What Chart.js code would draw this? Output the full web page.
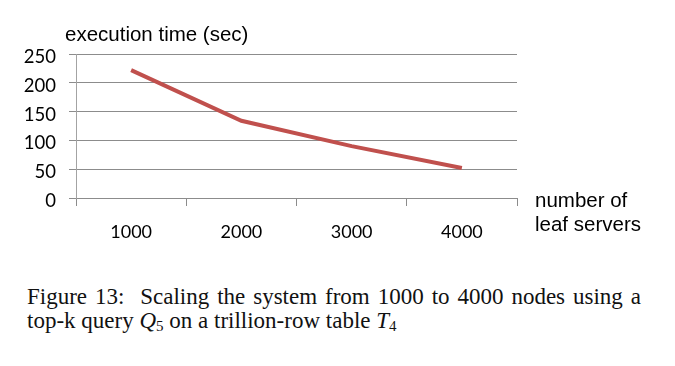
<!DOCTYPE html>
<html>
<head>
<meta charset="utf-8">
<script src="https://cdn.jsdelivr.net/npm/chart.js@4"></script>
<style>
  body { margin: 0; background: #fff; }
  #wrap { position: relative; width: 675px; height: 366px; background: #fff; }
  #chart { position: absolute; left: 0; top: 0; }
  #caption {
    position: absolute; left: 27px; top: 285px; width: 614px;
    font-family: "Liberation Serif", "Times New Roman", serif;
    font-size: 23px; line-height: 23.5px; color: #111;
  }
  #caption .l1 { display: block; text-align: justify; text-align-last: justify; white-space: nowrap; }
  #caption .l2 { display: block; }
  #caption i { font-style: italic; }
  #caption sub { font-size: 15px; vertical-align: -3px; line-height: 0; font-style: normal; }
</style>
</head>
<body>
<div id="wrap">
  <canvas id="chart" width="675" height="260"></canvas>
  <div id="caption"><span class="l1">Figure 13:&nbsp; Scaling the system from 1000 to 4000 nodes using a</span><span class="l2">top-k query <i>Q</i><sub>5</sub> on a trillion-row table <i>T</i><sub>4</sub></span></div>
</div>
<script>
const servers = ['1000', '2000', '3000', '4000'];
const execTime = [222, 134, 90, 52];
const yTicks = [0, 50, 100, 150, 200, 250];

const yTitle = 'execution time (sec)';
const xTitle = ['number of', 'leaf servers'];

const gridGray = '#8c8c8c';
const axisGray = '#a3a3a3';
const tickFont = 'Lato, "Liberation Sans", sans-serif';

// draws the two axis titles where the original puts them
const axisTitles = {
    id: 'axisTitles',
    afterDraw(chart) {
        const ctx = chart.ctx;
        const area = chart.chartArea;
        ctx.save();
        ctx.fillStyle = '#000';
        ctx.font = '20.5px "Liberation Sans", Arial, sans-serif';
        ctx.textBaseline = 'alphabetic';
        ctx.textAlign = 'left';
        ctx.fillText(yTitle, 65, area.top - 13);
        ctx.fillText(xTitle[0], area.right + 18, area.bottom + 9);
        ctx.fillText(xTitle[1], area.right + 18, area.bottom + 33);
        ctx.restore();
    }
};

const ctx = document.getElementById('chart').getContext('2d');

const chart = new Chart(ctx, {
    type: 'line',
    data: {
        labels: servers,
        datasets: [{
            data: execTime,
            borderColor: 'rgb(192, 80, 77)',
            borderWidth: 4,
            pointRadius: 0,
            tension: 0,
            fill: false
        }]
    },
    options: {
        responsive: false,
        animation: false,
        layout: { padding: { top: 54, right: 158, left: 0, bottom: 0 } },
        plugins: { legend: { display: false }, tooltip: { enabled: false } },
        scales: {
            x: {
                offset: true,
                afterFit: (scale) => { scale.height = 62; },
                grid: {
                    offset: true,
                    drawOnChartArea: false,
                    drawTicks: true,
                    tickLength: 8,
                    color: gridGray
                },
                border: { color: gridGray },
                ticks: {
                    color: '#000',
                    padding: 15,
                    maxRotation: 0,
                    font: { family: tickFont, size: 18 }
                }
            },
            y: {
                min: 0,
                max: 250,
                afterFit: (scale) => { scale.width = 76; },
                afterBuildTicks: (scale) => { scale.ticks = yTicks.map(v => ({ value: v })); },
                grid: { color: gridGray, tickLength: 7 },
                border: { color: axisGray },
                ticks: {
                    color: '#000',
                    padding: 13,
                    labelOffset: 3,
                    font: { family: tickFont, size: 18.5 }
                }
            }
        }
    },
    plugins: [axisTitles]
});
</script>
</body>
</html>
